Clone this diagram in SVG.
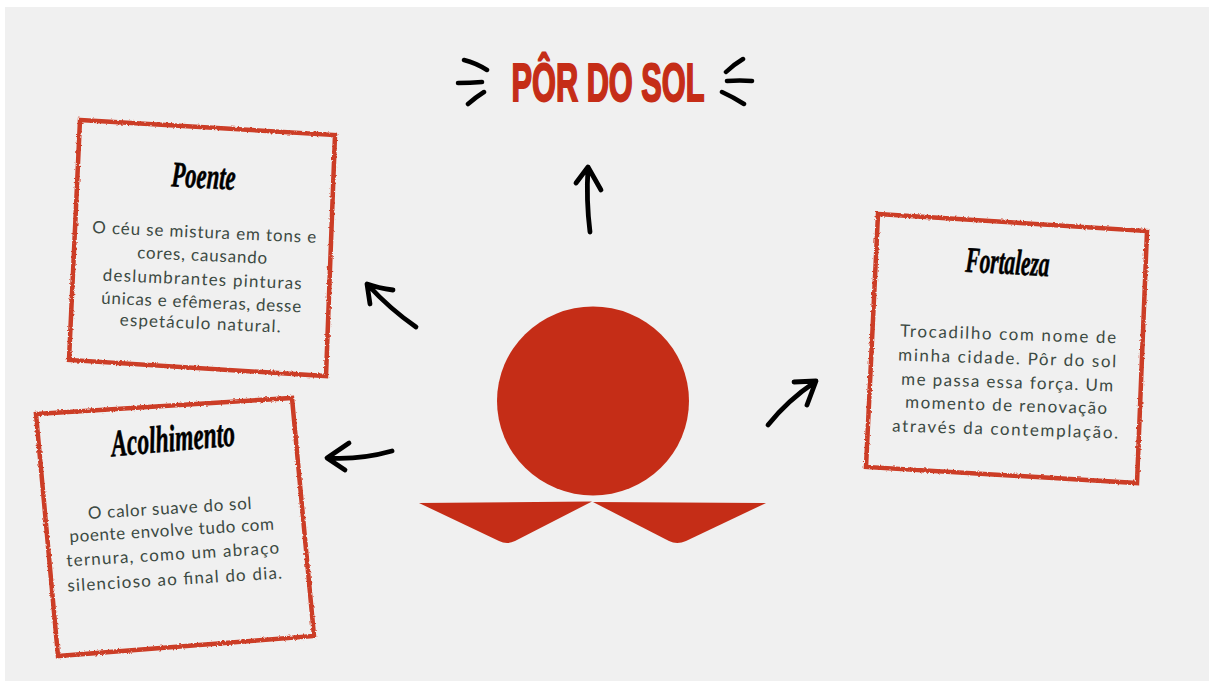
<svg xmlns="http://www.w3.org/2000/svg" width="1209" height="681" viewBox="0 0 1209 681">
<defs>
<filter id="crayon" x="-5%" y="-5%" width="110%" height="110%">
<feTurbulence type="fractalNoise" baseFrequency="0.45" numOctaves="2" seed="4" result="n"/>
<feDisplacementMap in="SourceGraphic" in2="n" scale="3"/>
<feGaussianBlur stdDeviation="0.5"/>
</filter>
</defs>
<style>
.box{fill:none;stroke:#cc3c26;stroke-width:4.500;stroke-linejoin:miter}
.body{font-family:"Lato","Noto Sans",sans-serif;font-size:17px;fill:#3c4a43;text-anchor:middle}
.head{font-family:"Liberation Serif",serif;font-style:italic;font-weight:bold;fill:#000;stroke:#000;stroke-width:.6px;text-anchor:middle}
.title{font-family:"Liberation Sans",Arial,sans-serif;font-weight:bold;font-size:54px;fill:#c52d17;stroke:#c52d17;stroke-width:2px;text-anchor:middle}
.stroke{fill:none;stroke:#000;stroke-width:4.800;stroke-linecap:round;stroke-linejoin:round}
.spark{fill:none;stroke:#000;stroke-width:4.500;stroke-linecap:round}
.sun{fill:#c52d17}
</style>
<rect x="5" y="7" width="1204" height="674" fill="#f0f0f0"/>

<g id="title">
<text class="title" x="608" y="101" textLength="193" lengthAdjust="spacingAndGlyphs">PÔR DO SOL</text>
<path class="spark" d="M464 60Q476 63 487 70M458 83Q470 83 482 82M468 104Q476 97 484 92M743 59Q733 65 726 72M727 81Q740 80 752 81M722 92Q733 97 744 104"/>
</g>

<g id="sun">
<ellipse class="sun" cx="593" cy="401" rx="96" ry="94.500"/>
<path class="sun" d="M419 503L592 501.500L515 541Q507 545 499 541Z"/>
<path class="sun" d="M593 502L766 503L686 541Q677 545 669 541Z"/>
</g>

<g id="node-poente">
<path class="box" filter="url(#crayon)" d="M80 120L335 135L326 376L69 360Z"/>
<text class="head" font-size="36" transform="translate(203 188) rotate(3)" textLength="64" lengthAdjust="spacingAndGlyphs">Poente</text>
<text class="body" transform="translate(204 238) rotate(2.500)" textLength="224">O céu se mistura em tons e</text>
<text class="body" transform="translate(202 261) rotate(2.500)" textLength="130">cores, causando</text>
<text class="body" transform="translate(202 285) rotate(2.500)" textLength="199">deslumbrantes pinturas</text>
<text class="body" transform="translate(201 308) rotate(2.500)" textLength="200">únicas e efêmeras, desse</text>
<text class="body" transform="translate(200 329) rotate(2.500)" textLength="161">espetáculo natural.</text>
</g>

<g id="node-acolhimento">
<path class="box" filter="url(#crayon)" d="M36 414L292 398L314 636L58 656Z"/>
<text class="head" font-size="38" transform="translate(174 451) rotate(-5)" textLength="124" lengthAdjust="spacingAndGlyphs">Acolhimento</text>
<text class="body" transform="translate(170 514) rotate(-3.500)" textLength="164">O calor suave do sol</text>
<text class="body" transform="translate(172 536) rotate(-3.500)" textLength="205">poente envolve tudo com</text>
<text class="body" transform="translate(173 560) rotate(-3.500)" textLength="213">ternura, como um abraço</text>
<text class="body" transform="translate(175 585) rotate(-3.500)" textLength="215">silencioso ao final do dia.</text>
</g>

<g id="node-fortaleza">
<path class="box" filter="url(#crayon)" d="M878 214L1147 231L1137 483L866 467Z"/>
<text class="head" font-size="36" transform="translate(1007 274) rotate(3)" textLength="84" lengthAdjust="spacingAndGlyphs">Fortaleza</text>
<text class="body" transform="translate(1008 340) rotate(1.800)" textLength="216">Trocadilho com nome de</text>
<text class="body" transform="translate(1007 364) rotate(1.800)" textLength="218">minha cidade. Pôr do sol</text>
<text class="body" transform="translate(1007 388) rotate(1.800)" textLength="212">me passa essa força. Um</text>
<text class="body" transform="translate(1006 411) rotate(1.800)" textLength="202">momento de renovação</text>
<text class="body" transform="translate(1005 435) rotate(1.800)" textLength="226">através da contemplação.</text>
</g>

<g id="connectors">
<path class="stroke" d="M590 232Q586 200 588 168M576 183L588 167L601 190"/>
<path class="stroke" d="M416 327Q390 309 368 285M393 290Q378 288 367 284L370 304"/>
<path class="stroke" d="M392 451Q360 460 328 458M349 443L327 458L345 470"/>
<path class="stroke" d="M768 425Q788 400 815 382M794 382L816 381L807 405"/>
</g>
</svg>
